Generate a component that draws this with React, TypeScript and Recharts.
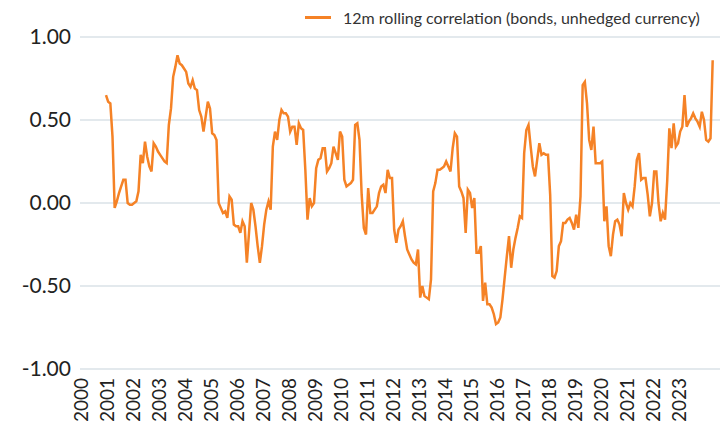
import React from 'react';
import { LineChart, Line, XAxis, YAxis, CartesianGrid } from 'recharts';

// monthly 12m rolling correlation, Jan 2001 .. May 2024
const startYear = 2001;
const corr: number[] = [
  0.65, 0.61, 0.60, 0.40, -0.03, 0.01, 0.06, 0.10, 0.14, 0.14, 0.00, -0.01, // 2001
  -0.01, 0.00, 0.01, 0.07, 0.29, 0.24, 0.37, 0.28, 0.22, 0.19, 0.36, 0.34, // 2002
  0.31, 0.29, 0.27, 0.25, 0.24, 0.47, 0.57, 0.76, 0.82, 0.89, 0.84, 0.83, // 2003
  0.81, 0.79, 0.72, 0.70, 0.74, 0.69, 0.68, 0.56, 0.52, 0.43, 0.52, 0.61, // 2004
  0.57, 0.42, 0.41, 0.38, 0.00, -0.03, -0.06, -0.05, -0.09, 0.04, 0.02, -0.13, // 2005
  -0.14, -0.14, -0.18, -0.11, -0.14, -0.36, -0.18, 0.00, -0.04, -0.14, -0.26, -0.36, // 2006
  -0.26, -0.13, -0.04, 0.01, -0.04, 0.34, 0.43, 0.38, 0.50, 0.56, 0.54, 0.54, // 2007
  0.52, 0.43, 0.46, 0.46, 0.35, 0.48, 0.45, 0.44, 0.20, -0.10, 0.03, -0.02, // 2008
  0.00, 0.21, 0.26, 0.27, 0.33, 0.33, 0.19, 0.21, 0.24, 0.34, 0.30, 0.26, // 2009
  0.43, 0.40, 0.14, 0.10, 0.11, 0.12, 0.14, 0.47, 0.48, 0.38, 0.05, -0.15, // 2010
  -0.19, 0.09, -0.06, -0.06, -0.04, -0.02, 0.06, 0.10, 0.11, 0.06, 0.20, 0.15, // 2011
  0.15, -0.16, -0.24, -0.16, -0.14, -0.11, -0.20, -0.28, -0.31, -0.34, -0.36, -0.37, // 2012
  -0.28, -0.57, -0.50, -0.56, -0.57, -0.58, -0.46, 0.07, 0.12, 0.20, 0.20, 0.21, // 2013
  0.22, 0.25, 0.22, 0.19, 0.33, 0.42, 0.40, 0.10, 0.07, 0.03, -0.18, 0.08, // 2014
  0.06, -0.03, 0.03, -0.30, -0.30, -0.26, -0.59, -0.48, -0.61, -0.61, -0.63, -0.67, // 2015
  -0.73, -0.72, -0.69, -0.58, -0.45, -0.32, -0.20, -0.39, -0.28, -0.21, -0.15, -0.08, // 2016
  -0.09, 0.30, 0.44, 0.47, 0.34, 0.22, 0.16, 0.26, 0.36, 0.29, 0.30, 0.29, // 2017
  0.29, 0.05, -0.44, -0.45, -0.41, -0.26, -0.23, -0.12, -0.12, -0.10, -0.09, -0.12, // 2018
  -0.16, -0.07, -0.15, 0.04, 0.71, 0.73, 0.60, 0.38, 0.32, 0.46, 0.24, 0.24, // 2019
  0.24, 0.25, -0.11, -0.02, -0.26, -0.32, -0.19, -0.11, -0.10, -0.13, -0.20, 0.06, // 2020
  0.00, -0.04, 0.00, -0.02, 0.10, 0.26, 0.30, 0.14, 0.15, 0.15, 0.05, -0.08, // 2021
  0.00, 0.19, 0.19, 0.00, -0.11, -0.06, -0.10, 0.13, 0.45, 0.33, 0.48, 0.34, // 2022
  0.36, 0.43, 0.46, 0.65, 0.46, 0.49, 0.51, 0.54, 0.51, 0.49, 0.46, 0.55, // 2023
  0.50, 0.38, 0.37, 0.39, 0.86, // 2024
];

const yearTicks = Array.from({ length: 24 }, (_, i) => 2000 + i);
const yTicks = [-1, -0.5, 0, 0.5, 1];
const seriesName = '12m rolling correlation (bonds, unhedged currency)';

const data = corr.map((v, i) => ({ t: startYear + i / 12, v }));

const ORANGE = '#f58226';

const YearTick = (props: any) => {
  const { x, y, payload } = props;
  return (
    <text
      transform={`translate(${x},${y + 1}) rotate(-90)`}
      textAnchor="end"
      dominantBaseline="central"
      fontSize={19}
      fontFamily="Lato"
      fill="#222"
    >
      {payload.value}
    </text>
  );
};

export default function App() {
  return (
    <div style={{ position: 'absolute', left: 0, top: 0, width: 720, height: 432, fontFamily: 'Lato', background: '#fff' }}>
      <LineChart width={720} height={432} data={data} margin={{ top: 37, right: 0, bottom: 0, left: 0 }}>
        <CartesianGrid vertical={false} stroke="#e3e9ed" strokeWidth={2} />
        <XAxis
          type="number"
          dataKey="t"
          domain={[2000, 2024.615]}
          ticks={yearTicks}
          interval={0}
          allowDataOverflow
          axisLine={false}
          tickLine={false}
          height={63}
          tick={<YearTick />}
        />
        <YAxis
          domain={[-1, 1]}
          ticks={yTicks}
          width={80}
          axisLine={false}
          tickLine={false}
          tickMargin={3}
          tickFormatter={(v: number) => v.toFixed(2)}
          tick={{ fontSize: 21, fill: '#222', fontFamily: 'Lato' }}
        />
        <Line
          type="linear"
          dataKey="v"
          name={seriesName}
          stroke={ORANGE}
          strokeWidth={2.5}
          dot={false}
          isAnimationActive={false}
        />
      </LineChart>
      <div style={{ position: 'absolute', left: 305, top: 8, height: 18, display: 'flex', alignItems: 'center' }}>
        <div style={{ width: 26, height: 3, background: ORANGE, marginRight: 12 }} />
        <span style={{ fontSize: 16, color: '#333', whiteSpace: 'nowrap' }}>{seriesName}</span>
      </div>
    </div>
  );
}
